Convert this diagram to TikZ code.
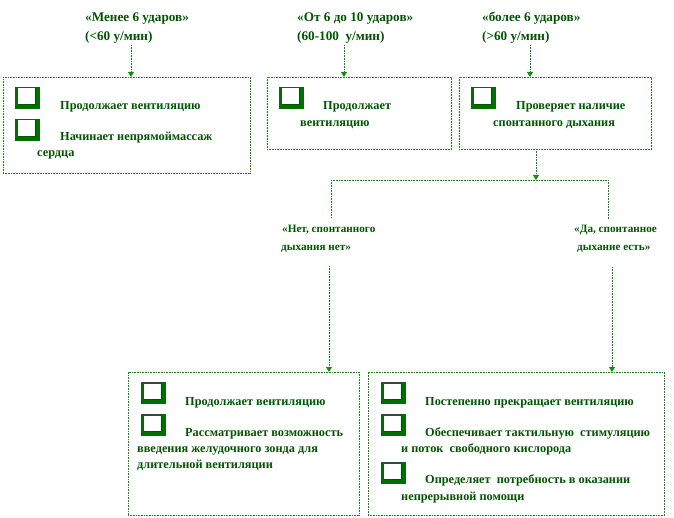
\documentclass[tikz,border=0pt]{standalone}
\usepackage{fontspec}
\setmainfont{Liberation Serif}
\usetikzlibrary{arrows.meta}
\definecolor{lg}{RGB}{20,140,20}
\definecolor{tg}{RGB}{0,85,0}
\definecolor{ig}{RGB}{0,110,0}
\begin{document}
\begin{tikzpicture}[x=1pt,y=-1pt,
  box/.style={draw=lg, dash pattern=on 1pt off 0.6pt, line width=0.9pt, anchor=north west, inner sep=0pt, outer sep=0pt},
  txt/.style={anchor=base west, inner sep=0pt, text=tg, font=\fontsize{12.3}{14}\selectfont\bfseries},
  toplab/.style={txt, font=\fontsize{13.2}{15}\selectfont\bfseries},
  midlab/.style={txt, font=\fontsize{11.2}{13}\selectfont\bfseries},
  ln/.style={draw=lg, dash pattern=on 1pt off 0.6pt, line width=0.9pt},
  arr/.style={ln, -{Triangle[width=6pt,length=5pt]}},
  chk/.pic={
    \fill[ig] (0,0) rectangle (25,22);
    \fill[white] (3,1.5) rectangle (20,17);
    \draw[black!75, line width=0.6pt] (0.3,22) -- (0.3,0.3) -- (22,0.3);
    \draw[tg, line width=0.5pt] (3,17) -- (20,17) -- (20,1.5);
  }
]
\useasboundingbox (0,0) rectangle (674,518);

% boxes
\node[box, minimum width=247pt, minimum height=96pt] (b1) at (3,77) {};
\node[box, minimum width=184pt, minimum height=72pt] (b2) at (267,77) {};
\node[box, minimum width=192pt, minimum height=72pt] (b3) at (459,77) {};
\node[box, minimum width=231pt, minimum height=143pt] (b4) at (128,372) {};
\node[box, minimum width=296pt, minimum height=143pt] (b5) at (368,372) {};

% top labels
\node[toplab] (l1a) at (85,21.5) {«Менее 6 ударов»};
\node[toplab] (l1b) at (85,41) {(<60 у/мин)};
\node[toplab] (l2a) at (297,21.5) {«От 6 до 10 ударов»};
\node[toplab] (l2b) at (297,41) {(60-100~ у/мин)};
\node[toplab] (l3a) at (482,21.5) {«более 6 ударов»};
\node[toplab] (l3b) at (482,41) {(>60 у/мин)};

% icons
\pic at (15,87) {chk};
\pic at (15,119) {chk};
\pic at (279,87) {chk};
\pic at (471,87) {chk};
\pic at (141,382) {chk};
\pic at (141,414) {chk};
\pic at (381,382) {chk};
\pic at (381,414) {chk};
\pic at (381,462) {chk};

% box 1
\node[txt] (t1a) at (60,110) {Продолжает вентиляцию};
\node[txt] (t1b) at (60,141) {Начинает непрямоймассаж};
\node[txt] (t1c) at (37,157) {сердца};
% box 2
\node[txt] (t2a) at (323,110) {Продолжает};
\node[txt] (t2b) at (300,127) {вентиляцию};
% box 3
\node[txt] (t3a) at (516,110) {Проверяет наличие};
\node[txt] (t3b) at (493,127) {спонтанного дыхания};

% middle labels
\node[midlab] (m1a) at (282,233) {«Нет, спонтанного};
\node[midlab] (m1b) at (281,251) {дыхания нет»};
\node[midlab] (m2a) at (574,233) {«Да, спонтанное};
\node[midlab] (m2b) at (577,251) {дыхание есть»};

% box 4
\node[txt] (t4a) at (185,405) {Продолжает вентиляцию};
\node[txt] (t4b) at (185,436) {Рассматривает возможность};
\node[txt] (t4c) at (137,452) {введения желудочного зонда для};
\node[txt] (t4d) at (137,468) {длительной вентиляции};
% box 5
\node[txt] (t5a) at (425,405) {Постепенно прекращает вентиляцию};
\node[txt] (t5b) at (425,436) {Обеспечивает тактильную~ стимуляцию};
\node[txt] (t5c) at (401,452) {и поток~ свободного кислорода};
\node[txt] (t5d) at (425,483) {Определяет~ потребность в оказании};
\node[txt] (t5e) at (401,500) {непрерывной помощи};

% connectors
\coordinate (c1) at (131,45);
\coordinate (c2) at (344,45);
\coordinate (c3) at (530,45);
\draw[arr] (c1) -- (c1 |- b1.north);
\draw[arr] (c2) -- (c2 |- b2.north);
\draw[arr] (c3) -- (c3 |- b3.north);

\coordinate (j) at (536,180);
\coordinate (jl) at (331,180);
\coordinate (jr) at (608,180);
\coordinate (jle) at (331,217);
\coordinate (jre) at (608,220);
\draw[arr] (b3.south -| j) -- (j);
\draw[ln] (jl) -- (jr);
\draw[ln] (jl) -- (jle);
\draw[ln] (jr) -- (jre);

\coordinate (c4) at (329,266);
\coordinate (c5) at (612,267);
\draw[arr] (c4) -- (c4 |- b4.north);
\draw[arr] (c5) -- (c5 |- b5.north);
\end{tikzpicture}
\end{document}
